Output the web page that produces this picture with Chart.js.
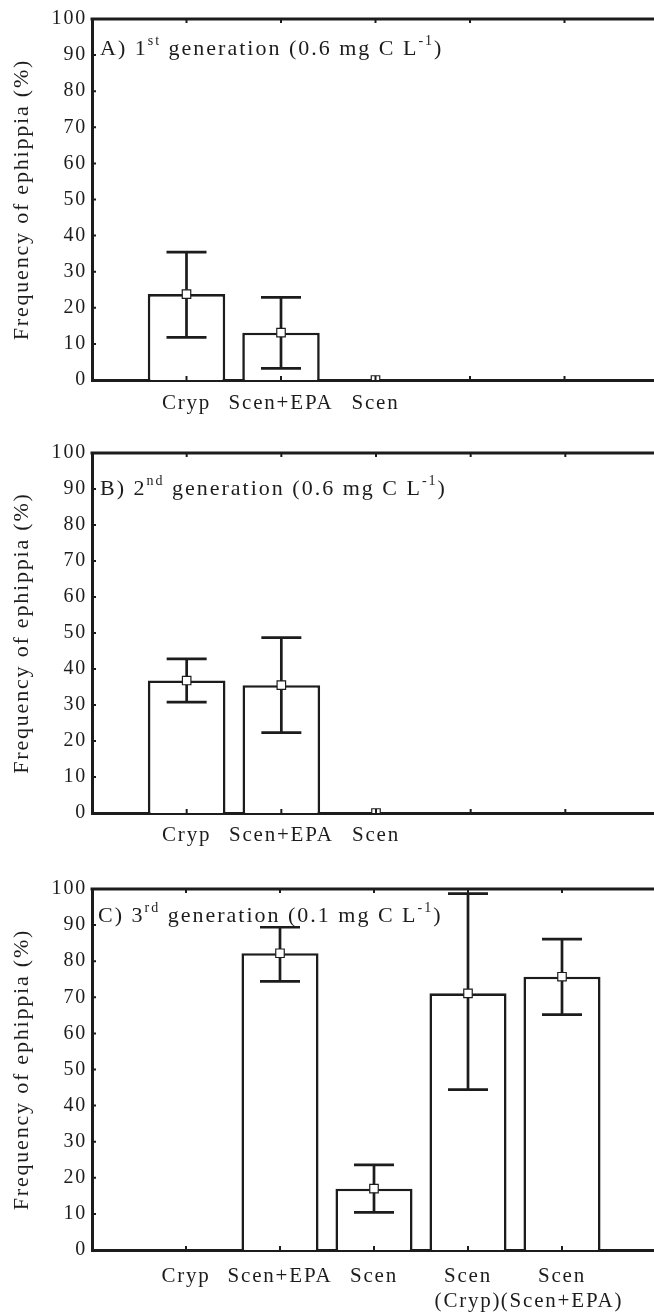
<!DOCTYPE html>
<html>
<head>
<meta charset="utf-8">
<script src="https://cdn.jsdelivr.net/npm/chart.js@4.4.1/dist/chart.umd.min.js"></script>
<style>
  html, body { margin: 0; padding: 0; background: #fff; overflow: hidden; width: 654px; height: 1312px; }
  canvas { position: absolute; left: 0; }
</style>
</head>
<body>
<canvas id="cA" width="670" height="420" style="top:0px"></canvas>
<canvas id="cB" width="670" height="470" style="top:420px"></canvas>
<canvas id="cC" width="670" height="472" style="top:840px"></canvas>
<script>
// ---- Data ----
const categoriesAB = ['', 'Cryp', 'Scen+EPA', 'Scen', '', '', ''];
const categoriesC = ['', 'Cryp', 'Scen+EPA', 'Scen', ['Scen', '(Cryp)'], ['Scen', '(Scen+EPA)'], ''];

const meanA = [null, 23.8, 13.1, 0, null, null, null];
const lowA  = [null, 11.8, 3.2, 0, null, null, null];
const highA = [null, 35.4, 22.9, 0, null, null, null];

const meanB = [null, 36.8, 35.5, 0, null, null, null];
const lowB  = [null, 30.8, 22.3, 0, null, null, null];
const highB = [null, 42.8, 48.7, 0, null, null, null];

const meanC = [null, null, 82.2, 17.0, 71.1, 75.7, null];
const lowC  = [null, null, 74.4, 10.4, 44.4, 65.2, null];
const highC = [null, null, 89.4, 23.6, 98.7, 86.1, null];

const yTickValues = [0, 10, 20, 30, 40, 50, 60, 70, 80, 90, 100];
const yTitle = 'Frequency of ephippia (%)';

const titleA = [['A) 1', false], ['st', true], [' generation (0.6 mg C L', false], ['-1', true], [')', false]];
const titleB = [['B) 2', false], ['nd', true], [' generation (0.6 mg C L', false], ['-1', true], [')', false]];
const titleC = [['C) 3', false], ['rd', true], [' generation (0.1 mg C L', false], ['-1', true], [')', false]];

// ---- Styling ----
const INK = '#1c1c1c';
const FONT = '"Liberation Serif", "Times New Roman", serif';

const spacingPlugin = {
  id: 'spacing',
  beforeLayout(chart) { chart.ctx.letterSpacing = '1.8px'; },
  beforeDraw(chart) { chart.ctx.letterSpacing = '1.8px'; }
};

const framePlugin = {
  id: 'frame',
  afterDatasetDraw(chart, args, opts) {
    if (args.index !== 0) return;
    const ctx = chart.ctx;
    const x = chart.scales.x, y = chart.scales.y;
    const low = opts.low, high = opts.high;
    ctx.save();
    ctx.strokeStyle = INK;
    ctx.lineWidth = 2.7;
    ctx.lineCap = 'butt';
    for (let i = 0; i < low.length; i++) {
      if (low[i] === null || high[i] === null || high[i] === low[i]) continue;
      const px = x.getPixelForValue(i);
      const yl = y.getPixelForValue(low[i]);
      const yh = y.getPixelForValue(high[i]);
      const half = 20;
      ctx.beginPath();
      ctx.moveTo(px, yl); ctx.lineTo(px, yh);
      ctx.moveTo(px - half, yh); ctx.lineTo(px + half, yh);
      ctx.moveTo(px - half, yl); ctx.lineTo(px + half, yl);
      ctx.stroke();
    }
    ctx.restore();
  },
  afterDraw(chart, args, opts) {
    const ctx = chart.ctx;
    const a = chart.chartArea;
    const x = chart.scales.x, y = chart.scales.y;
    ctx.save();
    ctx.strokeStyle = INK;
    // top frame line
    ctx.lineWidth = 3;
    ctx.beginPath();
    ctx.moveTo(a.left - 1.5, a.top);
    ctx.lineTo(a.right + 2, a.top);
    ctx.stroke();
    // inward ticks
    ctx.lineWidth = 2;
    ctx.beginPath();
    for (let i = 1; i < chart.data.labels.length - 1; i++) {
      const px = x.getPixelForValue(i);
      ctx.moveTo(px, a.top); ctx.lineTo(px, a.top + 4);
      ctx.moveTo(px, a.bottom); ctx.lineTo(px, a.bottom - 4);
    }
    for (const v of yTickValues) {
      const py = y.getPixelForValue(v);
      ctx.moveTo(a.left, py); ctx.lineTo(a.left + 4, py);
    }
    ctx.stroke();
    // panel title
    let tx = a.left + opts.titleDx;
    const ty = a.top + opts.titleDy;
    ctx.fillStyle = INK;
    ctx.textBaseline = 'alphabetic';
    ctx.textAlign = 'left';
    ctx.letterSpacing = '2px';
    for (const [t, sup] of opts.title) {
      ctx.font = (sup ? '14px ' : '22px ') + FONT;
      ctx.fillText(t, tx, sup ? ty - 10 : ty);
      tx += ctx.measureText(t).width;
    }
    ctx.restore();
  }
};

function makeChart(id, labels, mean, low, high, title, padTop, xAxisHeight, labelPad, titleDx, titleDy) {
  return new Chart(document.getElementById(id), {
    type: 'bar',
    data: {
      labels: labels,
      datasets: [
        {
          type: 'bar',
          data: mean,
          backgroundColor: '#ffffff',
          borderColor: INK,
          borderWidth: 2.6,
          borderSkipped: 'bottom',
          categoryPercentage: 1.0,
          barPercentage: 0.82,
          order: 2
        },
        {
          type: 'line',
          data: mean,
          showLine: false,
          pointStyle: 'rect',
          pointRadius: 6,
          pointBackgroundColor: '#ffffff',
          pointBorderColor: INK,
          pointBorderWidth: 1.2,
          order: 1
        }
      ]
    },
    options: {
      responsive: false,
      animation: false,
      events: [],
      layout: { padding: { top: padTop, left: 0, right: 3, bottom: 0 } },
      plugins: {
        legend: { display: false },
        tooltip: { enabled: false },
        frame: { low: low, high: high, title: title, titleDx: titleDx, titleDy: titleDy }
      },
      scales: {
        x: {
          type: 'category',
          offset: false,
          grid: { display: false, drawTicks: false },
          border: { display: true, color: INK, width: 3 },
          ticks: {
            autoSkip: false, maxRotation: 0, minRotation: 0, padding: labelPad,
            color: INK, font: { family: FONT, size: 21 }
          },
          afterFit(s) { s.height = xAxisHeight; }
        },
        y: {
          min: 0, max: 100,
          grid: { display: false, drawTicks: false },
          border: { display: true, color: INK, width: 3 },
          afterBuildTicks(s) { s.ticks = yTickValues.map(v => ({ value: v })); },
          ticks: {
            padding: 5, color: INK, font: { family: FONT, size: 20 }
          },
          title: {
            display: true, text: yTitle, color: INK,
            font: { family: FONT, size: 22 },
            padding: { top: 9, bottom: 0 }
          },
          afterFit(s) { s.width = 92; }
        }
      }
    },
    plugins: [spacingPlugin, framePlugin]
  });
}

makeChart('cA', categoriesAB, meanA, lowA, highA, titleA, 19, 40, 11, 8, 36);
makeChart('cB', categoriesAB, meanB, lowB, highB, titleB, 33, 77, 10, 8, 42);
makeChart('cC', categoriesC, meanC, lowC, highC, titleC, 49, 62, 14, 6, 33);
</script>
</body>
</html>
